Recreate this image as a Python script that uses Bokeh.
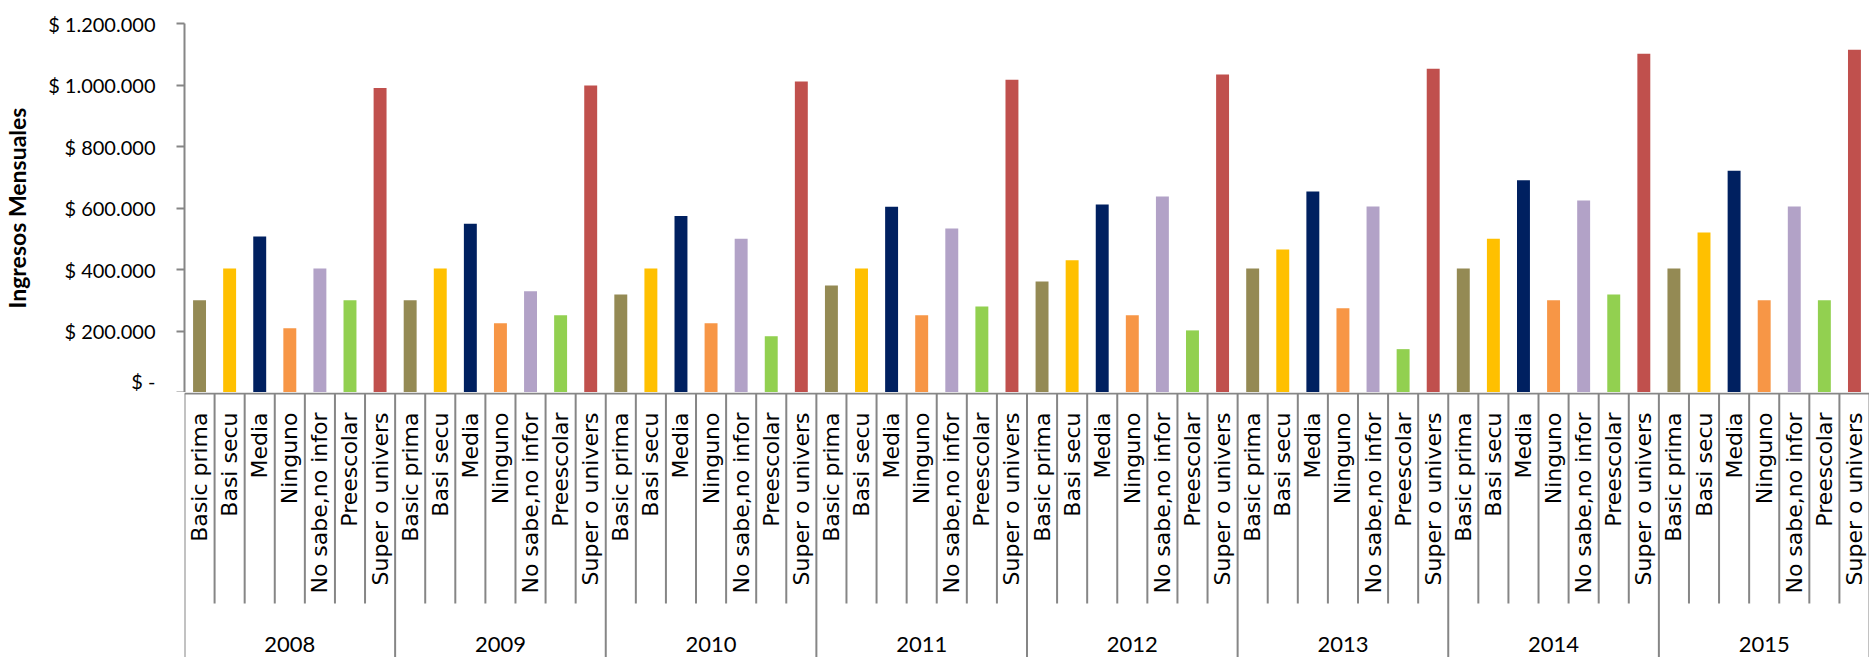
from bokeh.plotting import figure
from bokeh.models import ColumnDataSource, FactorRange, Range1d, FixedTicker
from bokeh.transform import dodge
from bokeh.layouts import column
from bokeh.embed import file_html
from bokeh.resources import INLINE
from bokeh.core.properties import value
import math

# ---------------- data ----------------
years = ["2008", "2009", "2010", "2011", "2012", "2013", "2014", "2015"]
categories = ["Basic prima", "Basi secu", "Media", "Ninguno",
              "No sabe,no infor", "Preescolar", "Super o univers"]
colors = ["#948A54", "#FFC000", "#002060", "#F79646", "#B2A2C7", "#92D050", "#C0504D"]

basic_prima = [300000, 300000, 319000, 348000, 361000, 403000, 403000, 403000]
basi_secu   = [403000, 403000, 403000, 403000, 430000, 465000, 500000, 520000]
media       = [507000, 549000, 574000, 604000, 611000, 654000, 690000, 721000]
ninguno     = [209000, 225000, 225000, 251000, 251000, 274000, 300000, 300000]
no_sabe     = [403000, 329000, 500000, 533000, 637000, 605000, 624000, 605000]
preescolar  = [300000, 251000, 183000, 280000, 202000, 141000, 319000, 300000]
super_univ  = [990000, 998000, 1011000, 1017000, 1034000, 1053000, 1102000, 1115000]

y_ticks = [0, 200000, 400000, 600000, 800000, 1000000, 1200000]
y_tick_labels = ["$ -", "$ 200.000", "$ 400.000", "$ 600.000",
                 "$ 800.000", "$ 1.000.000", "$ 1.200.000"]
y_title = "Ingresos Mensuales"

series = [basic_prima, basi_secu, media, ninguno, no_sabe, preescolar, super_univ]

# ---------------- build table ----------------
factors, tops, fills, cat_names, long_sep = [], [], [], [], []
for yi, yr in enumerate(years):
    for ci, cat in enumerate(categories):
        factors.append((yr, cat))
        tops.append(series[ci][yi])
        fills.append(colors[ci])
        cat_names.append(cat)
        long_sep.append(ci == 0)

# ---------------- layout constants (pixels) ----------------
W = 1869
LEFT = 184
TOP_BORDER = 23
TOP_H = 392
BOT_H = 265
AXIS_GRAY = "#868686"
FONT = "Lato"
LABEL_FONT = "DejaVu Sans"

xr = FactorRange(factors=factors, range_padding=0, group_padding=0,
                 subgroup_padding=0, factor_padding=0)

# ---------------- bar figure ----------------
pa = figure(x_range=xr, y_range=Range1d(0, 1200000), width=W, height=TOP_H,
            output_backend="svg", toolbar_location=None, x_axis_location=None,
            min_border_left=LEFT, min_border_right=0, min_border_top=TOP_BORDER,
            min_border_bottom=0)
pa.outline_line_color = None
pa.grid.visible = False
pa.background_fill_color = "white"
pa.border_fill_color = "white"

bar_src = ColumnDataSource(dict(x=factors, top=tops, color=fills))
pa.vbar(x="x", top="top", width=0.43, source=bar_src, fill_color="color",
        line_color=None)

ya = pa.yaxis[0]
ya.ticker = FixedTicker(ticks=y_ticks)
ya.major_label_overrides = {t: l for t, l in zip(y_ticks, y_tick_labels)}
ya.axis_line_color = AXIS_GRAY
ya.axis_line_width = 2
ya.major_tick_line_color = AXIS_GRAY
ya.major_tick_line_width = 2
ya.major_tick_out = 8
ya.major_tick_in = 0
ya.minor_tick_line_color = None
ya.major_label_text_font = FONT
ya.major_label_text_font_size = "20px"
ya.major_label_text_color = "black"
ya.major_label_standoff = 21
ya.axis_label = y_title
ya.axis_label_text_font = FONT
ya.axis_label_text_font_style = "bold"
ya.axis_label_text_font_size = "23px"
ya.axis_label_text_color = "black"
ya.axis_label_standoff = 14

# ---------------- category axis figure ----------------
pb = figure(x_range=xr, y_range=Range1d(0, BOT_H), width=W, height=BOT_H,
            output_backend="svg", toolbar_location=None,
            x_axis_location=None, y_axis_location=None,
            min_border_left=LEFT, min_border_right=0, min_border_top=0,
            min_border_bottom=0)
pb.outline_line_color = None
pb.grid.visible = False
pb.background_fill_color = "white"
pb.border_fill_color = "white"

axis_y = BOT_H - 1
short_bottom = BOT_H - 211   # short separators end ~211 px below the axis
label_top = BOT_H - 20       # rotated labels end ~20 px below the axis
year_y = 13

# horizontal category axis line
line_src = ColumnDataSource(dict(a=[factors[0]], b=[factors[-1]], y=[axis_y]))
pb.segment(x0=dodge("a", -0.5, range=xr), x1=dodge("b", 0.5, range=xr),
           y0="y", y1="y", source=line_src, line_color=AXIS_GRAY, line_width=2)

# separators
sep_src = ColumnDataSource(dict(
    f=factors,
    y0=[axis_y] * len(factors),
    y1=[0 if l else short_bottom for l in long_sep]))
pb.segment(x0=dodge("f", -0.5, range=xr), x1=dodge("f", -0.5, range=xr),
           y0="y0", y1="y1", source=sep_src, line_color=AXIS_GRAY, line_width=2)
end_src = ColumnDataSource(dict(f=[factors[-1]], y0=[axis_y], y1=[0]))
pb.segment(x0=dodge("f", 0.5, range=xr), x1=dodge("f", 0.5, range=xr),
           y0="y0", y1="y1", source=end_src, line_color=AXIS_GRAY, line_width=2)

# category labels (rotated)
lab_src = ColumnDataSource(dict(x=factors, y=[label_top] * len(factors), t=cat_names))
pb.text(x="x", y="y", text="t", source=lab_src, angle=math.pi / 2,
        text_align="right", text_baseline="middle",
        text_font=value(LABEL_FONT), text_font_size="22px", text_color="black")

# year labels
yr_src = ColumnDataSource(dict(x=years, y=[year_y] * len(years), t=years))
pb.text(x="x", y="y", text="t", source=yr_src, text_align="center",
        text_baseline="middle", text_font=value(FONT), text_font_size="22px",
        text_color="black")

layout = column(pa, pb, spacing=0)
open("out.html", "w").write(file_html(layout, INLINE))
